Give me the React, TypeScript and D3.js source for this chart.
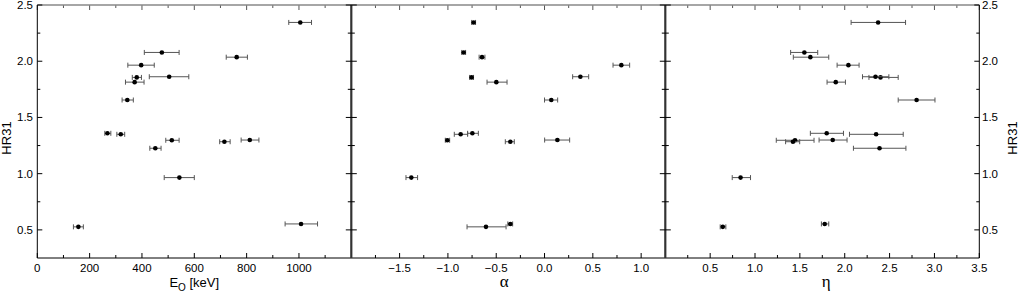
import * as d3 from "d3";
import React from "react";

// HR31 for each burst (shared vertical value)
const hr31 = [2.345, 2.078, 2.036, 1.965, 1.856, 1.862, 1.814, 1.655, 1.359, 1.35, 1.297, 1.284, 1.299, 1.226, 0.965, 0.527, 0.553];

// E0 [keV] with lower / upper error
const e0 = [1005, 476, 762, 397, 380, 504, 372, 344, 268, 319, 514, 715, 812, 451, 543, 157, 1008];
const e0Lo = [961, 409, 722, 346, 363, 428, 337, 324, 258, 304, 491, 697, 779, 430, 485, 138, 947];
const e0Hi = [1048, 542, 803, 447, 398, 579, 408, 367, 281, 334, 542, 737, 847, 473, 600, 176, 1071];

// alpha (null = not available)
const alpha = [-0.734, -0.837, -0.647, 0.795, -0.755, 0.371, -0.499, 0.07, -0.747, -0.868, -1.006, -0.354, 0.133, null, -1.379, -0.606, -0.354];
const alphaLo = [-0.754, -0.857, -0.677, 0.709, -0.775, 0.291, -0.595, 0.0, -0.796, -0.934, -1.027, -0.406, 0.001, null, -1.434, -0.802, -0.38];
const alphaHi = [-0.714, -0.817, -0.617, 0.881, -0.735, 0.457, -0.388, 0.136, -0.685, -0.796, -0.982, -0.313, 0.26, null, -1.314, -0.398, -0.33];

// eta
const eta = [2.372, 1.55, 1.617, 2.041, 2.399, 2.343, 1.9, 2.801, 1.799, 2.35, 1.446, 1.423, 1.866, 2.388, 0.839, 0.641, 1.777];
const etaLo = [2.071, 1.397, 1.427, 1.915, 2.27, 2.198, 1.803, 2.596, 1.617, 2.053, 1.237, 1.341, 1.714, 2.097, 0.746, 0.612, 1.74];
const etaHi = [2.678, 1.699, 1.822, 2.16, 2.596, 2.492, 2.008, 3.006, 1.986, 2.652, 1.658, 1.498, 2.026, 2.682, 0.95, 0.675, 1.822];

const hrMajor = [0.5, 1.0, 1.5, 2.0, 2.5];
const hrMinor = [0.75, 1.25, 1.75, 2.25];

const W = 1019, H = 295;
const left = 37.3, right = 979.3, top = 5, bottom = 258;
const panelW = (right - left) / 3;
const sans = "'Liberation Sans', Arial, Helvetica, sans-serif";
const serif = "'Liberation Serif', 'Times New Roman', serif";

const y = d3.scaleLinear().domain([0.25, 2.5]).range([bottom, top]);

const panels = [
  {
    domain: [0, 1200],
    major: [0, 200, 400, 600, 800, 1000],
    minor: [100, 300, 500, 700, 900, 1100],
    fmt: (v) => d3.format("d")(v),
    xs: e0, lo: e0Lo, hi: e0Hi,
  },
  {
    domain: [-2, 1.25],
    major: [-1.5, -1.0, -0.5, 0.0, 0.5, 1.0],
    minor: [-1.75, -1.25, -0.75, -0.25, 0.25, 0.75],
    fmt: (v) => d3.format(".1f")(v),
    xs: alpha, lo: alphaLo, hi: alphaHi,
  },
  {
    domain: [0, 3.5],
    major: [0.5, 1.0, 1.5, 2.0, 2.5, 3.0, 3.5],
    minor: [0.25, 0.75, 1.25, 1.75, 2.25, 2.75, 3.25],
    fmt: (v) => d3.format(".1f")(v),
    xs: eta, lo: etaLo, hi: etaHi,
  },
];

function Panel({ p, i }) {
  const x0 = left + i * panelW;
  const x = d3.scaleLinear().domain(p.domain).range([x0, x0 + panelW]);
  return (
    <g>
      {p.major.map((v) => (
        <g key={"M" + v}>
          <line x1={x(v)} x2={x(v)} y1={bottom} y2={bottom - 5} stroke="#000" />
          <line x1={x(v)} x2={x(v)} y1={top} y2={top + 5} stroke="#555" />
          <text x={x(v)} y={272} textAnchor="middle" fontSize={11.5} fontFamily={sans} fill="#000">
            {p.fmt(v)}
          </text>
        </g>
      ))}
      {p.minor.map((v) => (
        <g key={"m" + v}>
          <line x1={x(v)} x2={x(v)} y1={bottom} y2={bottom - 3} stroke="#000" />
          <line x1={x(v)} x2={x(v)} y1={top} y2={top + 3} stroke="#555" />
        </g>
      ))}
      {p.xs.map((v, k) =>
        v == null ? null : (
          <g key={"pt" + k}>
            <line x1={x(p.lo[k])} x2={x(p.hi[k])} y1={y(hr31[k])} y2={y(hr31[k])} stroke="#555" strokeWidth={1} />
            <line x1={x(p.lo[k])} x2={x(p.lo[k])} y1={y(hr31[k]) - 2.5} y2={y(hr31[k]) + 2.5} stroke="#555" />
            <line x1={x(p.hi[k])} x2={x(p.hi[k])} y1={y(hr31[k]) - 2.5} y2={y(hr31[k]) + 2.5} stroke="#555" />
            <circle cx={x(v)} cy={y(hr31[k])} r={2.3} fill="#000" />
          </g>
        )
      )}
    </g>
  );
}

export default function App() {
  const seps = [left + panelW, left + 2 * panelW];
  return (
    <svg width={W} height={H} style={{ position: "absolute", left: 0, top: 0, background: "#fff" }}>
      <rect width={W} height={H} fill="#fff" />
      {panels.map((p, i) => (
        <Panel key={i} p={p} i={i} />
      ))}
      {/* frame */}
      <line x1={left} x2={right} y1={top} y2={top} stroke="#888" strokeWidth={1.3} />
      <line x1={left} x2={right} y1={bottom} y2={bottom} stroke="#000" />
      <line x1={left} x2={left} y1={top} y2={bottom} stroke="#000" />
      <line x1={right} x2={right} y1={top} y2={bottom} stroke="#000" />
      {seps.map((sx) => (
        <line key={sx} x1={sx} x2={sx} y1={top} y2={bottom} stroke="#333" strokeWidth={2.2} />
      ))}
      {/* y ticks */}
      {hrMajor.map((v) => (
        <g key={"yM" + v}>
          <line x1={left} x2={left + 5} y1={y(v)} y2={y(v)} stroke="#000" />
          <line x1={right} x2={right - 5} y1={y(v)} y2={y(v)} stroke="#000" />
          {seps.map((sx) => (
            <line key={sx} x1={sx - 5.5} x2={sx + 5.5} y1={y(v)} y2={y(v)} stroke="#000" />
          ))}
          <text x={33} y={y(v)} dy="0.35em" textAnchor="end" fontSize={11.5} fontFamily={sans}>
            {d3.format(".1f")(v)}
          </text>
          <text x={982} y={y(v)} dy="0.35em" textAnchor="start" fontSize={11.5} fontFamily={sans}>
            {d3.format(".1f")(v)}
          </text>
        </g>
      ))}
      {hrMinor.map((v) => (
        <g key={"ym" + v}>
          <line x1={left} x2={left + 3} y1={y(v)} y2={y(v)} stroke="#000" />
          <line x1={right} x2={right - 3} y1={y(v)} y2={y(v)} stroke="#000" />
          {seps.map((sx) => (
            <line key={sx} x1={sx - 3.5} x2={sx + 3.5} y1={y(v)} y2={y(v)} stroke="#000" />
          ))}
        </g>
      ))}
      {/* axis titles */}
      <text x={left + panelW / 2} y={287} textAnchor="middle" fontSize={13} fontFamily={sans}>
        E<tspan fontSize={10} dy={4}>O</tspan>
        <tspan dy={-4}> [keV]</tspan>
      </text>
      <text x={left + panelW * 1.5 - 4} y={287} textAnchor="middle" fontSize={17} fontFamily={serif}>
        α
      </text>
      <text x={left + panelW * 2.5 + 4} y={287} textAnchor="middle" fontSize={17} fontFamily={serif}>
        η
      </text>
      <text transform={`translate(11,138) rotate(-90)`} textAnchor="middle" fontSize={13} fontFamily={sans}>
        HR31
      </text>
      <text transform={`translate(1017,138) rotate(-90)`} textAnchor="middle" fontSize={13} fontFamily={sans}>
        HR31
      </text>
    </svg>
  );
}
